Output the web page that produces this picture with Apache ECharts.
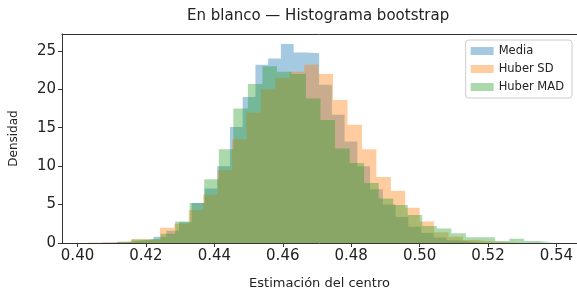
<!DOCTYPE html>
<html><head><meta charset="utf-8">
<script src="https://cdn.jsdelivr.net/npm/echarts@6/dist/echarts.min.js"></script>
<style>html,body{margin:0;padding:0;background:#fff}#c{width:577px;height:298px}</style>
</head><body><div id="c"></div>
<script>
// Histogram bins: start, width (same count per series), densities
const seriesNames = ['Media', 'Huber SD', 'Huber MAD'];
const mediaStart = 0.40731, mediaWidth = 0.003725;
const mediaDens = [0.05,0.1,0.3,0.45,0.8,1.6,2.7,5.2,7.1,10.0,15.1,19.0,23.2,24.0,25.9,24.8,24.7,20.6,16.7,13.2,10.0,7.0,5.0,3.4,2.1,1.3,0.7,0.35,0.15,0.05];
const sdStart = 0.40297, sdWidth = 0.00422;
const sdDens = [0.05,0.1,0.2,0.5,0.4,2.0,2.5,4.3,6.3,9.5,13.5,17.0,20.0,21.5,22.3,23.2,22.0,18.6,15.4,12.2,8.6,6.8,4.6,2.8,1.4,0.8,0.4,0.2,0.1,0.05];
const madStart = 0.41155, madWidth = 0.004249;
const madDens = [0.15,0.45,0.6,1.2,2.8,5.2,8.3,12.2,17.5,20.7,23.0,22.3,22.0,18.8,16.0,12.3,10.4,7.8,5.8,4.95,3.65,2.2,1.9,1.26,0.74,0.74,0.26,0.56,0.26,0.1];
const xTicks = [0.40,0.42,0.44,0.46,0.48,0.50,0.52,0.54];
const yTicks = [0,5,10,15,20,25];

function stepData(start, width, dens) {
  const pts = dens.map((d, i) => [start + i * width, d]);
  pts.push([start + dens.length * width, dens[dens.length - 1]]);
  return pts;
}
const colors = ['rgba(31,119,180,0.4)', 'rgba(255,127,14,0.4)', 'rgba(44,160,44,0.4)'];
const datas = [stepData(mediaStart, mediaWidth, mediaDens), stepData(sdStart, sdWidth, sdDens), stepData(madStart, madWidth, madDens)];

const chart = echarts.init(document.getElementById('c'), null, {renderer: 'canvas'});
const font = 'DejaVu Sans';
const xMin = 0.39546, xMax = 0.54602;
chart.setOption({
  animation: false,
  title: {text: 'En blanco — Histograma bootstrap', left: 187, top: 9, padding: 0,
    textStyle: {fontFamily: font, fontSize: 15, fontWeight: 'normal', color: '#222'}},
  legend: {data: seriesNames, orient: 'vertical', right: 5, top: 40,
    icon: 'rect', itemWidth: 23, itemHeight: 8, itemGap: 6,
    padding: [5, 8, 5, 5], borderColor: '#ccc', borderWidth: 1, borderRadius: 3,
    backgroundColor: 'rgba(255,255,255,0.8)',
    textStyle: {fontFamily: font, fontSize: 11.5, color: '#222'}},
  grid: {left: 62, right: -2, top: 34, bottom: 55, show: false},
  xAxis: [{type: 'value', min: xMin, max: xMax,
    name: 'Estimación del centro', nameLocation: 'middle', nameGap: 34,
    nameTextStyle: {fontFamily: font, fontSize: 13, color: '#222'},
    axisLine: {show: true, lineStyle: {color: '#333'}},
    axisTick: {show: true, length: 4, customValues: xTicks, lineStyle: {color: '#333'}},
    axisLabel: {customValues: xTicks, formatter: v => v.toFixed(2), fontFamily: font, fontSize: 15, color: '#222', margin: 6},
    splitLine: {show: false}},
    {type: 'value', position: 'top', min: xMin, max: xMax,
    axisLine: {show: true, lineStyle: {color: '#333'}}, axisTick: {show: false}, axisLabel: {show: false}, splitLine: {show: false}}],
  yAxis: {type: 'value', min: 0, max: 27.2,
    name: 'Densidad', nameLocation: 'middle', nameGap: 42, nameRotate: 90,
    nameTextStyle: {fontFamily: font, fontSize: 12, color: '#222'},
    axisLine: {show: true, lineStyle: {color: '#333'}},
    axisTick: {show: true, length: 4, customValues: yTicks, lineStyle: {color: '#333'}},
    axisLabel: {customValues: yTicks, fontFamily: font, fontSize: 15, color: '#222', margin: 6},
    splitLine: {show: false}},
  series: seriesNames.map((n, i) => ({
    name: n, type: 'line', step: 'end', data: datas[i], color: colors[i],
    showSymbol: false, symbol: 'none', lineStyle: {width: 0}, areaStyle: {color: colors[i], opacity: 1},
    z: 2 + i
  }))
});
</script></body></html>
